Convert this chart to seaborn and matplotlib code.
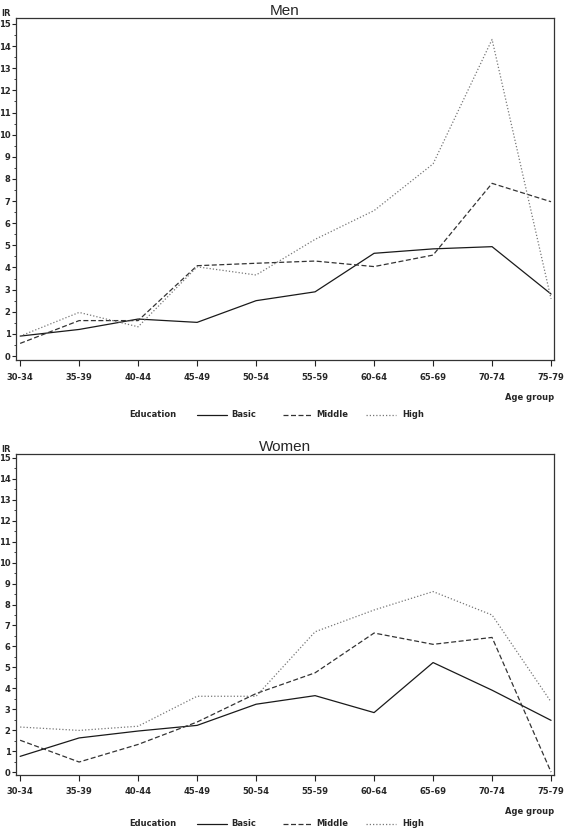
import numpy as np
import pandas as pd
import matplotlib
matplotlib.use("Agg")
import matplotlib.pyplot as plt
import seaborn as sns
from matplotlib.ticker import MultipleLocator

age_groups = ["30-34", "35-39", "40-44", "45-49", "50-54",
              "55-59", "60-64", "65-69", "70-74", "75-79"]
education = ["Basic", "Middle", "High"]

# incidence rates
men_basic = [0.9, 1.2, 1.67, 1.52, 2.5, 2.9, 4.64, 4.84, 4.94, 2.8]
men_middle = [0.57, 1.6, 1.6, 4.08, 4.19, 4.29, 4.04, 4.56, 7.8, 6.97]
men_high = [0.9, 1.97, 1.32, 4.03, 3.66, 5.27, 6.57, 8.68, 14.3, 2.58]

women_basic = [0.75, 1.63, 1.96, 2.23, 3.24, 3.65, 2.84, 5.23, 3.91, 2.47]
women_middle = [1.52, 0.48, 1.32, 2.39, 3.75, 4.74, 6.64, 6.1, 6.43, 0.0]
women_high = [2.15, 1.99, 2.19, 3.62, 3.62, 6.7, 7.74, 8.62, 7.5, 3.35]


def long_df(basic, middle, high):
    frames = []
    for name, vals in zip(education, [basic, middle, high]):
        frames.append(pd.DataFrame({"age": age_groups, "IR": vals, "Education": name}))
    return pd.concat(frames, ignore_index=True)


men = long_df(men_basic, men_middle, men_high)
women = long_df(women_basic, women_middle, women_high)

sns.set_style("white")
plt.rcParams["font.family"] = ["DejaVu Sans"]

dashes = {"Basic": "", "Middle": (4, 2), "High": (1, 1.6)}
colors = {"Basic": "#1a1a1a", "Middle": "#333333", "High": "#777777"}
tick_font = {"family": "DejaVu Sans", "weight": "bold", "size": 6}

fig = plt.figure(figsize=(5.65, 8.32), dpi=100)

W = 565
H = 832


def box(left, top, right, bottom):
    return [left / W, 1 - bottom / H, (right - left) / W, (bottom - top) / H]


panels = [
    ("Men", men, box(16, 18, 554, 360), (-0.18, 15.27), 398, 415),
    ("Women", women, box(16, 454, 554, 775), (-0.14, 15.19), 811, 824),
]

for title, df, rect, ylim, agey, legy in panels:
    ax = fig.add_axes(rect)
    sns.lineplot(data=df, x="age", y="IR", hue="Education", style="Education",
                 palette=colors, dashes=dashes, linewidth=0.9, ax=ax,
                 legend=False, sort=False)
    ax.set_xlim(-0.07, 9.05)
    ax.set_ylim(*ylim)
    ax.yaxis.set_major_locator(MultipleLocator(1))
    ax.yaxis.set_minor_locator(MultipleLocator(0.5))
    ax.set_xlabel("")
    ax.set_ylabel("")
    ax.tick_params(axis="both", which="major", direction="out", length=3,
                   width=0.8, color="#222222", pad=1)
    ax.tick_params(axis="y", which="minor", direction="out", length=1.5,
                   width=0.6, left=True, color="#222222")
    ax.tick_params(left=True, bottom=True)
    ax.tick_params(axis="x", length=4, pad=5)
    for lab in ax.get_xticklabels() + ax.get_yticklabels():
        lab.set_fontproperties(tick_font)
    for sp in ax.spines.values():
        sp.set_color("#333333")
        sp.set_linewidth(0.9)
    ax.set_title(title, fontsize=11, family="Liberation Sans", pad=2)
    ax.text(-0.027, 1.0, "IR", transform=ax.transAxes, ha="left", va="bottom",
            fontdict=tick_font)

    fig.text(530 / W, 1 - agey / H, "Age group", ha="center", va="center",
             fontdict=tick_font)

    # legend row
    yy = 1 - legy / H
    fig.text(153 / W, yy, "Education", ha="center", va="center", fontdict=tick_font)
    segs = [(197, 227, 231), (283, 312, 316), (366, 396, 402)]
    for name, (x0, x1, xt) in zip(education, segs):
        line = plt.Line2D([x0 / W, x1 / W], [yy, yy], transform=fig.transFigure,
                          color=colors[name], linewidth=0.9)
        if dashes[name]:
            line.set_dashes(dashes[name])
        fig.add_artist(line)
        fig.text(xt / W, yy, name, ha="left", va="center", fontdict=tick_font)

fig.savefig("out.png", dpi=100)
